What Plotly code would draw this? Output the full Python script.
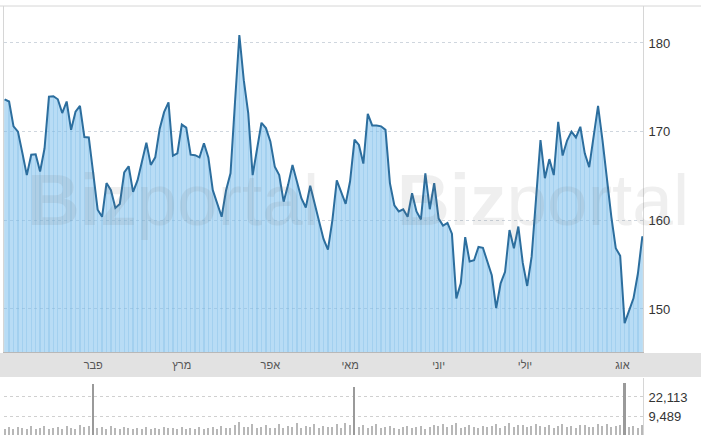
import plotly.graph_objects as go

# ---- data ----
price = [173.65, 173.4, 170.6, 170.0, 167.6, 165.1, 167.4, 167.45, 165.5, 168.1,
         173.95, 174.0, 173.65, 172.1, 173.4, 170.2, 172.25, 172.9, 169.4, 169.35,
         165.3, 161.2, 160.4, 164.2, 163.4, 161.4, 161.85, 165.4, 166.1, 163.2,
         164.5, 166.6, 168.75, 166.25, 167.1, 170.3, 172.2, 173.3, 167.3, 167.55,
         170.8, 170.45, 167.4, 167.35, 167.1, 168.7, 167.1, 163.4, 161.9, 160.4,
         163.4, 165.3, 173.2, 180.9, 175.8, 172.1, 165.1, 168.1, 171.0, 170.4,
         168.9, 166.05, 165.1, 162.1, 164.0, 166.25, 164.2, 162.5, 161.45, 163.9,
         161.9, 160.0, 157.9, 156.7, 160.0, 164.5, 163.1, 161.85, 164.4, 169.1,
         168.5, 166.4, 172.0, 170.7, 170.7, 170.6, 170.2, 164.2, 161.7, 161.0,
         161.25, 160.4, 163.05, 161.0, 160.1, 165.3, 161.25, 164.2, 160.2, 159.4,
         159.7, 158.5, 151.2, 152.9, 158.1, 155.35, 155.5, 157.0, 156.9, 155.35,
         153.8, 150.1, 152.9, 154.2, 158.9, 156.85, 159.3, 155.2, 152.6, 155.9,
         162.7, 169.05, 164.75, 166.9, 165.1, 171.1, 167.3, 169.0, 170.0, 169.35,
         170.55, 167.55, 166.0, 169.4, 172.9, 169.05, 164.6, 160.4, 156.85, 156.0,
         148.4, 149.7, 151.2, 154.0, 158.2]

volume = [1500, 2600, 1200, 2900, 1800, 1400, 3100, 1600, 2200, 3300,
          1500, 1900, 2700, 1300, 3500, 2000, 1700, 3800, 2400, 3200,
          30500, 1800, 2900, 1500, 3400, 2100, 1200, 2600, 1900, 1600,
          2300, 1400, 2800, 1700, 2000, 1500, 2500, 1800, 2200, 1600,
          3000, 1400, 2100, 1700, 2600, 1300, 1900, 2400, 1500, 3300,
          1800, 2200, 4200, 5800, 2400, 3000, 4600, 2000, 2700, 3900,
          2200, 1900, 4400, 2300, 3100, 2600, 5200, 2100, 3400, 2800,
          4800, 1900, 3600, 2500, 3000, 4900, 2200, 5400, 3700, 28800,
          2600, 3900, 1800, 3200, 4400, 2100, 2800, 3500, 2300, 1700,
          2900, 3600, 2000, 2400, 3300, 1600, 2700, 4000, 3100, 4700,
          2500, 3800, 5100, 2200, 3000, 4300, 2600, 1900, 3500, 2800,
          3200, 4600, 2300, 3400, 5500, 2900, 4100, 3700, 2400, 3600,
          4800, 3100, 2600, 3900, 2300, 3300, 4500, 2800, 3500, 2100,
          3800, 4200, 3000, 2500, 4900, 3400, 4400, 2700, 3600, 3900,
          31200, 2800, 3500, 2300, 4100]

month_labels = ["פבר", "מרץ", "אפר", "מאי", "יוני", "יולי", "אוג"]
month_index = [20, 40, 60, 78, 98, 117.5, 139.5]

price_ticks = [150, 160, 170, 180]
vol_ticks = [9489, 22113]
vol_tick_text = ["9,489", "22,113"]

idx = list(range(len(price)))
vidx = list(range(len(volume)))

W, H = 701, 436
ML, MR, MT, MB = 4, 58, 6, 1
PW = W - ML - MR
PH = H - MT - MB

def py(pix):
    return 1 - (pix - MT) / PH

FONT = "Arial, Liberation Sans, DejaVu Sans, sans-serif"

fig = go.Figure()

# stripes inside the area
fig.add_trace(go.Bar(x=idx, y=price, width=0.28, marker_color="rgba(90,160,210,0.28)",
                     marker_line_width=0, xaxis="x", yaxis="y", hoverinfo="skip"))
# area + line
fig.add_trace(go.Scatter(x=idx, y=price, mode="lines", fill="tozeroy",
                         fillcolor="rgba(125,192,236,0.55)",
                         line=dict(color="#2c6e9e", width=2),
                         xaxis="x", yaxis="y", hoverinfo="skip"))
# volume
vcolors = ["#9a9a9a" if v > 20000 else "#b8b8b8" for v in volume]
vwidths = [0.45 if v > 20000 else 0.3 for v in volume]
fig.add_trace(go.Bar(x=vidx, y=[v + 2500 for v in volume], base=-2500, width=vwidths,
                     marker_color=vcolors, marker_line_width=0,
                     xaxis="x2", yaxis="y2", hoverinfo="skip"))

fig.update_layout(
    width=W, height=H,
    margin=dict(l=ML, r=MR, t=MT, b=MB, autoexpand=False),
    paper_bgcolor="white", plot_bgcolor="white",
    showlegend=False, bargap=0,
    font=dict(family=FONT, size=13, color="#333"),
    xaxis=dict(domain=[0, 1], range=[-0.15, 144.15], anchor="y",
               tickvals=month_index, ticktext=month_labels,
               tickfont=dict(size=11, color="#555"), ticks="",
               ticklabelstandoff=3,
               showgrid=False, zeroline=False, showline=True,
               linecolor="#b8b8b8", linewidth=1),
    yaxis=dict(domain=[py(352), 1], range=[145.15, 184.17], side="right",
               tickvals=price_ticks, showgrid=True, gridcolor="#cfd6de",
               griddash="dot", zeroline=False, showline=True, mirror=True,
               linecolor="#d6d6d6", ticks="", ticklabelstandoff=2,
               tickfont=dict(size=13, color="#333")),
    xaxis2=dict(domain=[0, 1], range=[-0.15, 144.15], anchor="y2", matches="x",
                showticklabels=False, showgrid=False, zeroline=False, ticks=""),
    yaxis2=dict(domain=[0, py(378)], range=[-2500, 34400], side="right",
                tickvals=vol_ticks, ticktext=vol_tick_text, showgrid=True,
                gridcolor="#d0d0d0", griddash="dot", zeroline=False,
                showline=True, linecolor="#d6d6d6", ticks="", ticklabelstandoff=2,
                tickfont=dict(size=13, color="#333")),
)

# grey band behind month labels and top border line
fig.add_shape(type="rect", xref="paper", yref="paper",
              x0=-ML / PW, x1=1 + MR / PW, y0=py(377), y1=py(353),
              fillcolor="#e2e2e2", line_width=0, layer="below")
fig.add_shape(type="line", xref="paper", yref="paper",
              x0=-ML / PW, x1=1 + MR / PW, y0=1, y1=1,
              line=dict(color="#d6d6d6", width=1))

# watermark
for cx in [38, 121.5]:
    fig.add_annotation(x=cx, y=162.3, xref="x", yref="y", showarrow=False,
                       text="<b>Biz</b>portal",
                       font=dict(family=FONT, size=73, color="rgba(110,110,110,0.11)"))

fig.write_html("out.html", config={"displayModeBar": False},
               post_script="document.body.style.margin='0';document.body.style.overflow='hidden';")
